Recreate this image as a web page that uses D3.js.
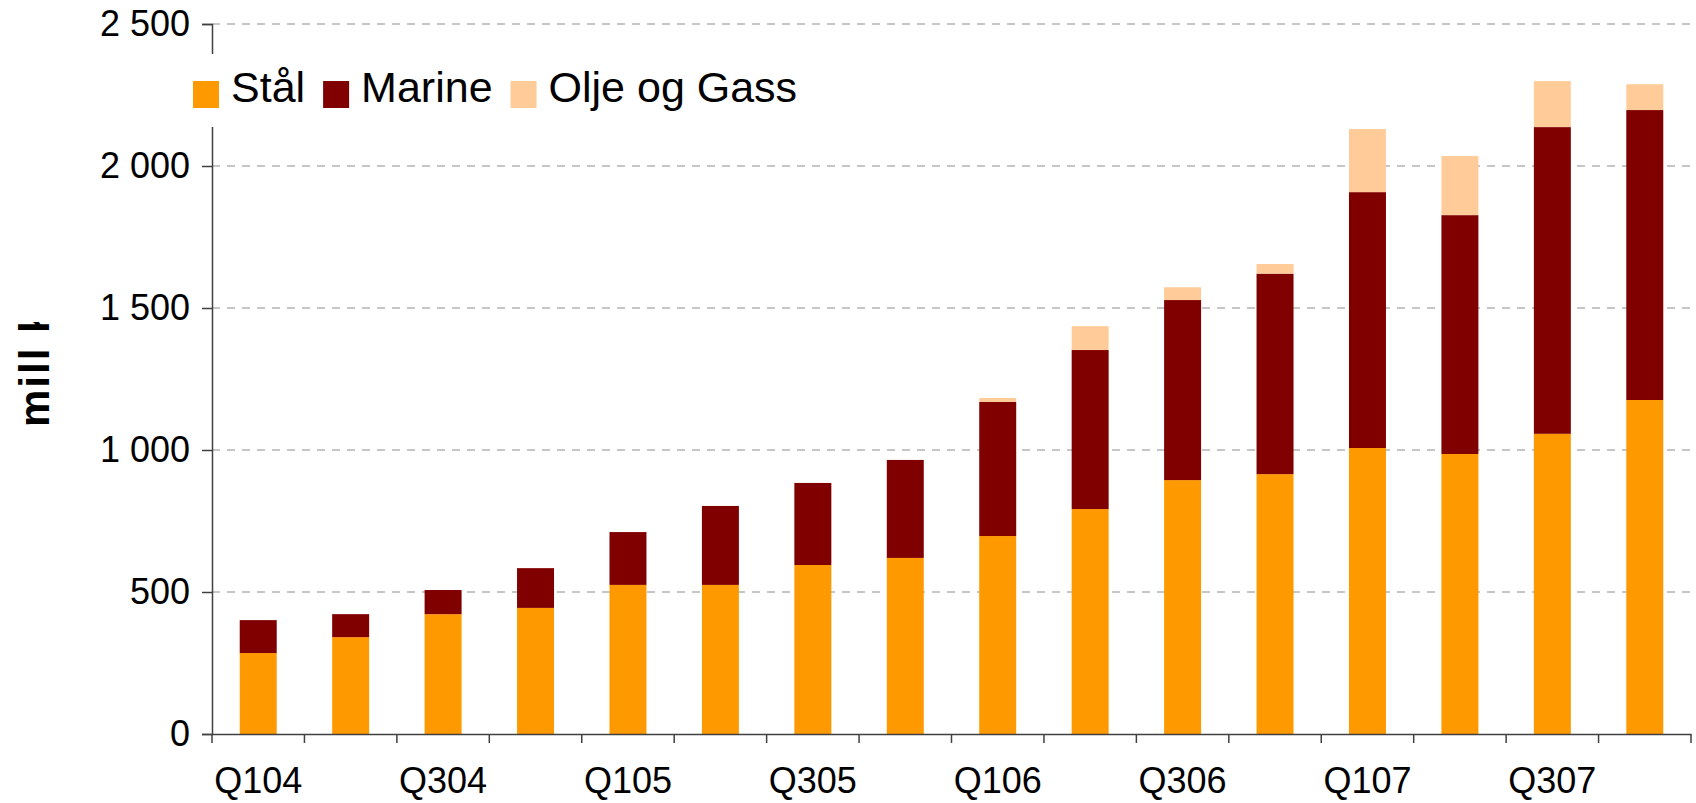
<!DOCTYPE html>
<html lang="no">

<head>
    <meta charset="UTF-8">
    <title>Omsetning per segment</title>
    <script src="https://d3js.org/d3.v7.min.js"></script>
    <style>
        body {
            margin: 0;
            padding: 0;
            background: #fff;
        }

        svg {
            display: block;
            font-family: "Liberation Sans", Arial, sans-serif;
        }
    </style>
</head>

<body>
    <svg id="chart" width="1696" height="803"></svg>

    <script>
        // quarters Q104 .. Q407
        const quarters = ["Q104", "Q204", "Q304", "Q404", "Q105", "Q205", "Q305", "Q405",
            "Q106", "Q206", "Q306", "Q406", "Q107", "Q207", "Q307", "Q407"];

        const staal = [285, 341, 422, 444, 525, 525, 595, 620, 697, 792, 894, 915, 1007, 986, 1057, 1176];
        const marine = [116, 81, 85, 140, 186, 278, 289, 345, 472, 560, 634, 706, 901, 841, 1080, 1021];
        const oljeGass = [0, 0, 0, 0, 0, 0, 0, 0, 14, 84, 45, 34, 222, 208, 162, 91];

        const seriesNames = ["Stål", "Marine", "Olje og Gass"];
        const seriesColors = ["#ff9900", "#800000", "#ffcc99"];
        const yTicks = [0, 500, 1000, 1500, 2000, 2500];

        const svg = d3.select("#chart");

        const plotLeft = 212, plotRight = 1691, plotTop = 24, plotBottom = 734;

        const x = d3.scaleBand()
            .domain(quarters)
            .range([plotLeft, plotRight])
            .paddingInner(0.6)
            .paddingOuter(0.3);

        const y = d3.scaleLinear()
            .domain([0, 2500])
            .range([plotBottom, plotTop]);

        const fmt = v => v >= 1000 ? Math.floor(v / 1000) + " " + d3.format("03")(v % 1000) : String(v);

        // dashed gridlines
        svg.append("g")
            .selectAll("line")
            .data(yTicks.filter(d => d > 0))
            .enter().append("line")
            .attr("x1", plotLeft)
            .attr("x2", plotRight)
            .attr("y1", d => y(d))
            .attr("y2", d => y(d))
            .attr("stroke", "#b4b4b4")
            .attr("stroke-width", 1.5)
            .attr("stroke-dasharray", "8,7");

        // stacked bars
        const table = quarters.map((q, i) => ({ q: q, s0: staal[i], s1: marine[i], s2: oljeGass[i] }));
        const stacked = d3.stack().keys(["s0", "s1", "s2"])(table);

        svg.append("g")
            .selectAll("g")
            .data(stacked)
            .enter().append("g")
            .attr("fill", (d, i) => seriesColors[i])
            .selectAll("rect")
            .data(d => d)
            .enter().append("rect")
            .attr("x", d => x(d.data.q))
            .attr("width", x.bandwidth())
            .attr("y", d => y(d[1]))
            .attr("height", d => Math.max(0, y(d[0]) - y(d[1])));

        // y axis
        const yAxis = svg.append("g")
            .attr("transform", `translate(${plotLeft},0)`)
            .call(d3.axisLeft(y).tickValues(yTicks).tickSize(10).tickPadding(12).tickFormat(fmt));
        yAxis.select(".domain").attr("stroke", "#404040").attr("stroke-width", 1.5);
        yAxis.selectAll(".tick line").attr("stroke", "#404040").attr("stroke-width", 1.5);
        yAxis.selectAll("text")
            .attr("font-size", 36)
            .attr("font-family", "Liberation Sans, Arial, sans-serif")
            .attr("fill", "#000");

        // x axis, ticks between categories, every second label
        const xAxis = svg.append("g")
            .attr("transform", `translate(0,${plotBottom})`)
            .call(d3.axisBottom(x).tickSize(0).tickPadding(33)
                .tickFormat((d, i) => i % 2 === 0 ? d : ""));
        xAxis.select(".domain").attr("stroke", "#404040").attr("stroke-width", 1.5);
        xAxis.selectAll("text")
            .attr("font-size", 36)
            .attr("font-family", "Liberation Sans, Arial, sans-serif")
            .attr("fill", "#000");

        const bounds = d3.range(quarters.length + 1)
            .map(i => plotLeft + i * (plotRight - plotLeft) / quarters.length);
        xAxis.append("g")
            .selectAll("line")
            .data(bounds)
            .enter().append("line")
            .attr("x1", d => d)
            .attr("x2", d => d)
            .attr("y1", 0)
            .attr("y2", 9)
            .attr("stroke", "#404040")
            .attr("stroke-width", 1.5);

        // y axis title, clipped at the top like in the original
        svg.append("clipPath")
            .attr("id", "titleClip")
            .append("rect")
            .attr("x", 0).attr("y", 322)
            .attr("width", 120).attr("height", 200);

        svg.append("g")
            .attr("clip-path", "url(#titleClip)")
            .append("text")
            .attr("transform", "translate(49,427) rotate(-90)")
            .attr("font-size", 42)
            .attr("font-weight", "bold")
            .attr("letter-spacing", 2)
            .attr("fill", "#000")
            .text("mill kr");

        // legend with a white box that breaks the y axis
        const legend = svg.append("g");
        legend.append("rect")
            .attr("x", 185).attr("y", 54)
            .attr("width", 620).attr("height", 73)
            .attr("fill", "#fff");

        let lx = 193;
        seriesNames.forEach((name, i) => {
            legend.append("rect")
                .attr("x", lx).attr("y", 81)
                .attr("width", 26).attr("height", 27)
                .attr("fill", seriesColors[i]);
            const t = legend.append("text")
                .attr("x", lx + 38)
                .attr("y", 102)
                .attr("font-size", 43)
                .attr("fill", "#000")
                .text(name);
            lx += 38 + t.node().getComputedTextLength() + 18;
        });
    </script>

</body>

</html>
